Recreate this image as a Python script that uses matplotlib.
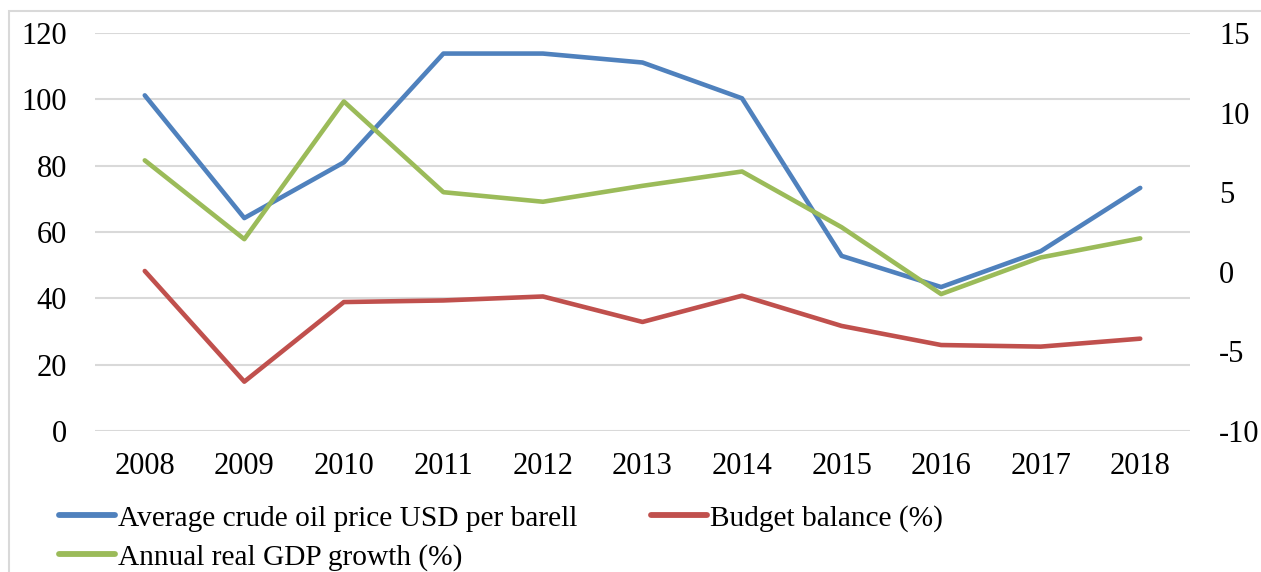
import numpy as np
import matplotlib.pyplot as plt
from matplotlib.patches import Rectangle

plt.rcParams['font.family'] = ['Liberation Serif', 'DejaVu Serif']
plt.rcParams['axes.unicode_minus'] = False

years = ["2008", "2009", "2010", "2011", "2012", "2013", "2014", "2015", "2016", "2017", "2018"]
oil_price = [101.2, 64.2, 81.0, 113.8, 113.8, 111.1, 100.3, 52.8, 43.4, 54.2, 73.3]
budget_balance = [0.05, -6.9, -1.9, -1.8, -1.55, -3.15, -1.5, -3.4, -4.6, -4.7, -4.2]
gdp_growth = [7.0, 2.05, 10.7, 5.0, 4.4, 5.4, 6.3, 2.8, -1.4, 0.9, 2.1]

blue = "#4F81BD"
red = "#C0504D"
green = "#9BBB59"
fs = 22
lfs = 21.2

fig = plt.figure(figsize=(12.61, 5.72), dpi=100)
ax = fig.add_axes([95/1261, 1 - 431/572, (1190 - 95)/1261, (431 - 33)/572])
ax2 = ax.twinx()

x = np.arange(len(years))
l1, = ax.plot(x, oil_price, color=blue, lw=3.3, solid_capstyle="round", label="Average crude oil price USD per barell")
l2, = ax2.plot(x, budget_balance, color=red, lw=3.3, solid_capstyle="round", label="Budget balance (%)")
l3, = ax2.plot(x, gdp_growth, color=green, lw=3.3, solid_capstyle="round", label="Annual real GDP growth (%)")

ax.set_xlim(-0.5, len(years) - 0.5)
ax.set_ylim(0, 120)
ax.set_yticks(range(0, 121, 20))
ax2.set_ylim(-10, 15)
ax2.set_yticks(range(-10, 16, 5))
ax.set_xticks(x)
ax.set_xticklabels(years)
ax.grid(axis="y", color="#D9D9D9", lw=1.5)
ax.set_axisbelow(True)

for a in (ax, ax2):
    for s in a.spines.values():
        s.set_visible(False)
ax.tick_params(axis="y", length=0, pad=20, labelsize=fs)
ax.tick_params(axis="x", length=0, pad=15, labelsize=fs)
ax2.tick_params(axis="y", length=0, pad=21, labelsize=fs)

leg = fig.legend([l1, l3, l2], [l1.get_label(), l3.get_label(), l2.get_label()],
                 ncol=2, loc="upper left", bbox_to_anchor=(59/1261, 1 - 505/572),
                 frameon=False, fontsize=lfs, handlelength=1.9, handletextpad=0.1,
                 columnspacing=2.5, labelspacing=0.42, borderaxespad=0, borderpad=0)
for h in leg.legend_handles:
    h.set_linewidth(4.2)

fig.patches.append(Rectangle((9/1261, -0.1), 1.2, 1 - 11/572 + 0.1, transform=fig.transFigure,
                             fill=False, edgecolor="#D9D9D9", lw=1.5))

plt.savefig("out.png", dpi=100)
